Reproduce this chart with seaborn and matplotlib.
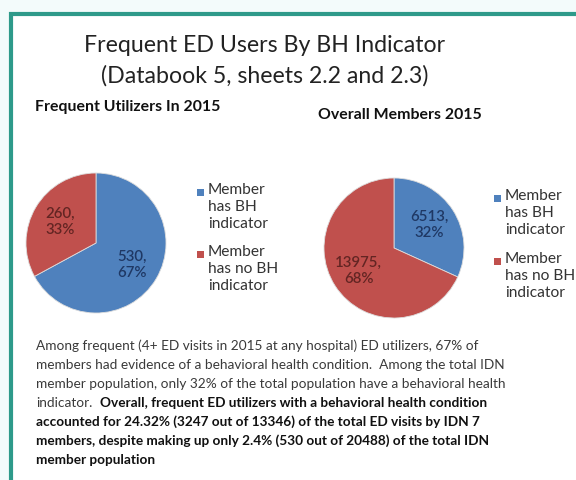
import matplotlib
matplotlib.use("Agg")
import matplotlib.pyplot as plt
import seaborn as sns
import numpy as np
from matplotlib.patches import Rectangle

sns.set_style("white")
plt.rcParams['font.family'] = ['Lato', 'DejaVu Sans']

# ---- data ----
categories = ["Member has BH indicator", "Member has no BH indicator"]
legend_labels = ["Member\nhas BH\nindicator", "Member\nhas no BH\nindicator"]
frequent_counts = [530, 260]
frequent_pcts = [67, 33]
overall_counts = [6513, 13975]
overall_pcts = [32, 68]

title_lines = ["Frequent ED Users By BH Indicator", "(Databook 5, sheets 2.2 and 2.3)"]
left_title = "Frequent Utilizers In 2015"
right_title = "Overall Members 2015"
para_regular = [
    "Among frequent (4+ ED visits in 2015 at any hospital) ED utilizers, 67% of",
    "members had evidence of a behavioral health condition.  Among the total IDN",
    "member population, only 32% of the total population have a behavioral health",
]
para_mixed_regular = "indicator."
para_bold = [
    "Overall, frequent ED utilizers with a behavioral health condition",
    "accounted for 24.32% (3247 out of 13346) of the total ED visits by IDN 7",
    "members, despite making up only 2.4% (530 out of 20488) of the total IDN",
    "member population",
]

colors = ["#4F81BD", "#C0504D"]
label_colors = ["#1F3864", "#632523"]

W, H = 576, 480
fig = plt.figure(figsize=(W / 100, H / 100), dpi=100)
fig.patch.set_facecolor("#F3FBFB")

def P(x, y):
    return (x / W, 1 - y / H)

# white slide area + teal border
fig.patches.append(Rectangle(P(11, 520), 600 / W, 506 / H, transform=fig.transFigure,
                             facecolor="white", edgecolor="#2E9A8A", linewidth=3.0, zorder=-5))

# titles
fig.text(*P(265, 46), title_lines[0], ha="center", va="center", fontsize=16.7, color="#222222")
fig.text(*P(265, 76), title_lines[1], ha="center", va="center", fontsize=16.7, color="#222222")
fig.text(*P(35, 107), left_title, ha="left", va="center", fontsize=11.4, fontweight="bold", color="#111111")
fig.text(*P(318, 115), right_title, ha="left", va="center", fontsize=11.4, fontweight="bold", color="#111111")

def draw_pie(rect, counts, pcts, lab_dist):
    ax = fig.add_axes(rect)
    wedges, _ = ax.pie(counts, colors=colors, startangle=90, counterclock=False,
                       wedgeprops=dict(linewidth=0.6, edgecolor="#dddddd"))
    for w, c, p, lc in zip(wedges, counts, pcts, label_colors):
        ang = np.deg2rad((w.theta1 + w.theta2) / 2)
        ax.text(lab_dist * np.cos(ang), lab_dist * np.sin(ang), f"{c},\n{p}%",
                ha="center", va="center", fontsize=10.8, color=lc, linespacing=1.2,
                fontweight="semibold")
    ax.set_xlim(-1, 1)
    ax.set_ylim(-1, 1)
    ax.set_aspect("equal")
    ax.axis("off")
    return ax

draw_pie([26 / W, 167 / H, 140 / W, 140 / H], frequent_counts, frequent_pcts, 0.6)
draw_pie([324 / W, 162 / H, 140 / W, 140 / H], overall_counts, overall_pcts, 0.6)

def draw_legend(xsq, xtxt, ys):
    for lab, col, y in zip(legend_labels, colors, ys):
        fig.patches.append(Rectangle(P(xsq, y + 3.5), 7 / W, 7 / H, transform=fig.transFigure,
                                     facecolor=col, edgecolor="none"))
        fig.text(*P(xtxt, y - 9), lab, ha="left", va="top", fontsize=11.2,
                 color="#333333", linespacing=1.27)

draw_legend(197, 208, [192, 254])
draw_legend(494, 505, [198, 261])

# paragraph
x0 = 36
y = 346
step = 19
fs = 9.8
for line in para_regular:
    fig.text(*P(x0, y), line, ha="left", va="center", fontsize=fs, color="#3a3a3a")
    y += step
fig.text(*P(x0, y), para_mixed_regular, ha="left", va="center", fontsize=fs, color="#3a3a3a")
fig.text(*P(100, y), para_bold[0], ha="left", va="center", fontsize=fs, color="#111111", fontweight="bold")
for line in para_bold[1:]:
    y += step
    fig.text(*P(x0, y), line, ha="left", va="center", fontsize=fs, color="#111111", fontweight="bold")

fig.savefig("out.png", dpi=100)
